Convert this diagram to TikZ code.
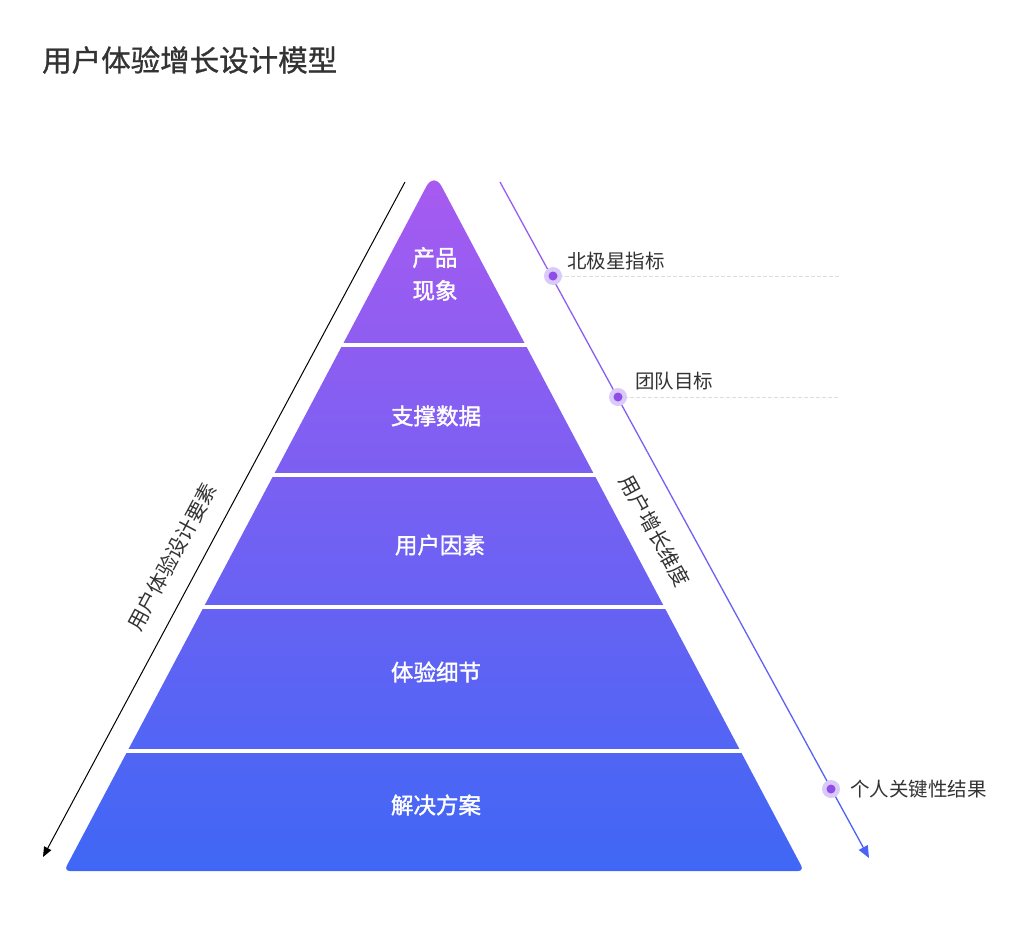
\documentclass[tikz,border=0pt]{standalone}
\usepackage{fontspec}
\setmainfont{Noto Sans CJK SC}
\newfontfamily\cjkmed{Noto Sans CJK SC}[FakeBold=1.6]
\newfontfamily\cjktitle{Noto Sans CJK SC}[FakeBold=1.0]
\usepackage{tikz}
\usetikzlibrary{arrows.meta,calc}

\definecolor{pyrtop}{HTML}{A85AF0}
\definecolor{pyrbot}{HTML}{3F67F5}
\definecolor{txtdark}{HTML}{333333}
\definecolor{halo}{HTML}{DACAFA}
\definecolor{dotc}{HTML}{8F4DE8}
\definecolor{dashc}{HTML}{DDDDDD}
\definecolor{linetop}{HTML}{9B5CF0}
\definecolor{linebot}{HTML}{4A62F5}

\tikzset{
  laylabel/.style={text=white, font=\cjkmed\fontsize{22.5}{33}\selectfont, align=center, inner sep=0pt},
  keylabel/.style={text=txtdark, font=\fontsize{19.5}{21}\selectfont, anchor=west, inner sep=0pt},
  axislabel/.style={text=txtdark, font=\fontsize{20.5}{22}\selectfont, inner sep=0pt},
  keyhalo/.style={fill=halo},
  keydot/.style={fill=dotc},
  guide/.style={dashc, line width=1pt, dash pattern=on 4pt off 2pt}
}

\begin{document}
\begin{tikzpicture}[x=1pt, y=-1pt]
\useasboundingbox (0,0) rectangle (1013,945);

% title
\node[anchor=west, inner sep=0pt, text=txtdark, font=\cjktitle\fontsize{29.5}{32}\selectfont] (title) at (42,60) {用户体验增长设计模型};

% pyramid
\shade[top color=pyrtop, bottom color=pyrbot]
  (434,871) [rounded corners=6pt] -- (64,871) [rounded corners=16pt] -- (434,172)
  [rounded corners=6pt] -- (804,871) -- cycle;
\foreach \y in {345,475,607,751}
  \draw[white, line width=4pt] (100,\y) -- (830,\y);

\node[laylabel] (lay1) at (435,274) {产品\\现象};
\node[laylabel] (lay2) at (436,416) {支撑数据};
\node[laylabel] (lay3) at (440,545) {用户因素};
\node[laylabel] (lay4) at (436,672) {体验细节};
\node[laylabel] (lay5) at (436,805) {解决方案};

% left axis
\coordinate (la) at (405,182);
\coordinate (lb) at (43,857);
\draw[line width=1pt, -{Triangle[length=10pt, width=8pt]}] (la) -- (lb);
\node[axislabel, rotate=61.8] (leftlab) at (172,557) {用户体验设计要素};

% right axis
\coordinate (ra) at (500,182);
\coordinate (rb) at (869,858);
\foreach \i [evaluate=\i as \s using \i/20, evaluate=\i as \e using (\i+1)/20,
             evaluate=\i as \p using 100-\i*5.26] in {0,...,18}
  \draw[linetop!\p!linebot, line width=1.3pt] ($(ra)!\s!(rb)$) -- ($(ra)!\e!(rb)$);
\draw[linebot, line width=1.3pt, -{Triangle[length=12pt, width=10pt]}] ($(ra)!0.95!(rb)$) -- (rb);
\node[axislabel, rotate=-61.4] (rightlab) at (655,531) {用户增长维度};

% key points
\coordinate (d1) at (553,276);
\coordinate (d2) at (618,397);
\coordinate (d3) at (831,789);
\coordinate (e1) at (840,276);
\coordinate (e2) at (840,397);
\draw[guide] (d1) -- (e1);
\draw[guide] (d2) -- (e2);
\foreach \d in {d1,d2,d3} {
  \fill[keyhalo] (\d) circle (9);
  \fill[keydot] (\d) circle (4.5);
}
\node[keylabel] (k1) at (567,261) {北极星指标};
\node[keylabel] (k2) at (635,381) {团队目标};
\node[keylabel] (k3) at (850,789) {个人关键性结果};

\end{tikzpicture}
\end{document}
